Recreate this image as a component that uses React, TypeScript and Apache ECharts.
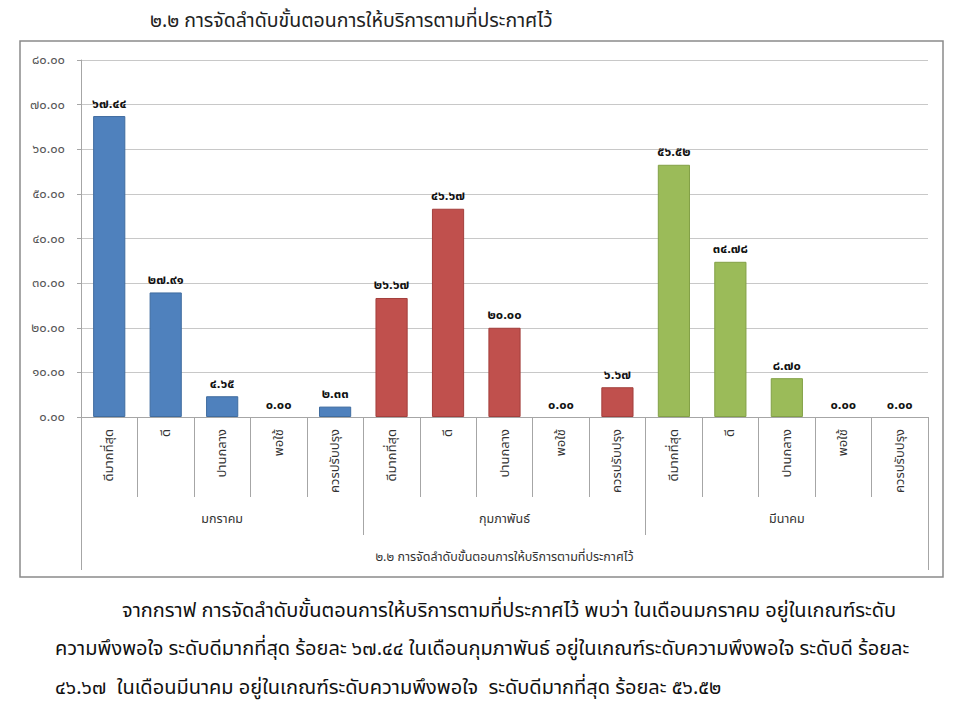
import React, { useEffect, useRef } from "react";
import * as echarts from "echarts";

const chartTitle = "๒.๒ การจัดลำดับขั้นตอนการให้บริการตามที่ประกาศไว้";
const months = ["มกราคม", "กุมภาพันธ์", "มีนาคม"];
const levels = ["ดีมากที่สุด", "ดี", "ปานกลาง", "พอใช้", "ควรปรับปรุง"];
const janValues = [67.44, 27.91, 4.65, 0.0, 2.33];
const febValues = [26.67, 46.67, 20.0, 0.0, 6.67];
const marValues = [56.52, 34.78, 8.7, 0.0, 0.0];
const monthColors = ["#4F81BD", "#C0504D", "#9BBB59"];
const monthBorders = ["#3F6C9F", "#A33F3C", "#82A046"];
const paragraph = [
  "จากกราฟ การจัดลำดับขั้นตอนการให้บริการตามที่ประกาศไว้ พบว่า ในเดือนมกราคม อยู่ในเกณฑ์ระดับ",
  "ความพึงพอใจ ระดับดีมากที่สุด ร้อยละ ๖๗.๔๔ ในเดือนกุมภาพันธ์ อยู่ในเกณฑ์ระดับความพึงพอใจ ระดับดี ร้อยละ",
  "๔๖.๖๗  ในเดือนมีนาคม อยู่ในเกณฑ์ระดับความพึงพอใจ  ระดับดีมากที่สุด ร้อยละ ๕๖.๕๒",
];

const thaiDigits = ["๐", "๑", "๒", "๓", "๔", "๕", "๖", "๗", "๘", "๙"];
const toThai = (v: number) =>
  v.toFixed(2).replace(/[0-9]/g, (d) => thaiDigits[Number(d)]);

const FONT = "'Noto Sans Thai', Tahoma, 'Noto Sans', 'DejaVu Sans', sans-serif";

export default function App() {
  const ref = useRef<HTMLDivElement>(null);
  useEffect(() => {
    if (!ref.current) return;
    const chart = echarts.init(ref.current, undefined, { renderer: "svg" });
    const allValues = [janValues, febValues, marValues];
    const categories: string[] = [];
    const data: any[] = [];
    allValues.forEach((vals, mi) => {
      vals.forEach((v, li) => {
        categories.push(levels[li]);
        data.push({
          value: v,
          itemStyle: {
            color: v > 0 ? monthColors[mi] : "transparent",
            borderColor: v > 0 ? monthBorders[mi] : "transparent",
            borderWidth: v > 0 ? 1 : 0,
          },
        });
      });
    });
    const gray = "#a6a6a6";
    const paraStyle = { fontSize: 20, fill: "#111", fontFamily: FONT, verticalAlign: "middle" };
    chart.setOption({
      animation: false,
      backgroundColor: "#ffffff",
      textStyle: { fontFamily: FONT },
      title: {
        text: chartTitle,
        left: 145,
        top: 6,
        textStyle: { fontSize: 19.5, fontWeight: "normal", color: "#222", fontFamily: FONT },
      },
      grid: { left: 81, right: 32, top: 60, bottom: 303 },
      xAxis: [
        {
          type: "category",
          data: categories,
          position: "bottom",
          axisLine: { show: true, lineStyle: { color: gray } },
          axisTick: { show: true, length: 80, interval: 0, lineStyle: { color: gray } },
          axisLabel: {
            interval: 0,
            rotate: 90,
            margin: 12,
            fontSize: 13,
            color: "#333",
            fontFamily: FONT,
          },
        },
        {
          type: "category",
          data: months,
          position: "bottom",
          axisLine: { show: false },
          axisTick: { show: true, length: 118, interval: 0, lineStyle: { color: gray } },
          axisLabel: { interval: 0, margin: 96, fontSize: 12.5, color: "#333", fontFamily: FONT },
        },
        {
          type: "category",
          data: [chartTitle],
          position: "bottom",
          axisLine: { show: false },
          axisTick: { show: true, length: 153, interval: 0, lineStyle: { color: gray } },
          axisLabel: { interval: 0, margin: 134, fontSize: 12.5, color: "#333", fontFamily: FONT },
        },
      ],
      yAxis: {
        type: "value",
        min: 0,
        max: 80,
        interval: 10,
        axisLine: { show: true, lineStyle: { color: gray } },
        axisTick: { show: true, length: 4, lineStyle: { color: gray } },
        splitLine: { lineStyle: { color: "#c8c8c8", width: 1.2 } },
        axisLabel: {
          formatter: (v: number) => toThai(v),
          fontSize: 13,
          color: "#555",
          margin: 16,
          fontFamily: FONT,
        },
      },
      series: [
        {
          type: "bar",
          xAxisIndex: 0,
          barWidth: "57%",
          data,
          label: {
            show: true,
            position: "top",
            distance: 6,
            fontSize: 13,
            fontWeight: "bold",
            color: "#111",
            fontFamily: FONT,
            formatter: (p: any) => toThai(p.value),
          },
        },
      ],
      graphic: [
        {
          type: "rect",
          shape: { x: 20, y: 41, width: 923, height: 536 },
          style: { fill: "none", stroke: "#8a8a8a", lineWidth: 1.5 },
          silent: true,
        },
        { type: "text", x: 122, y: 611, style: { ...paraStyle, text: paragraph[0] } },
        { type: "text", x: 55, y: 649, style: { ...paraStyle, text: paragraph[1] } },
        { type: "text", x: 55, y: 688, style: { ...paraStyle, text: paragraph[2] } },
      ],
    });
    return () => chart.dispose();
  }, []);
  return (
    <div
      ref={ref}
      style={{ position: "fixed", left: 0, top: 0, width: 960, height: 720, background: "#fff" }}
    />
  );
}
